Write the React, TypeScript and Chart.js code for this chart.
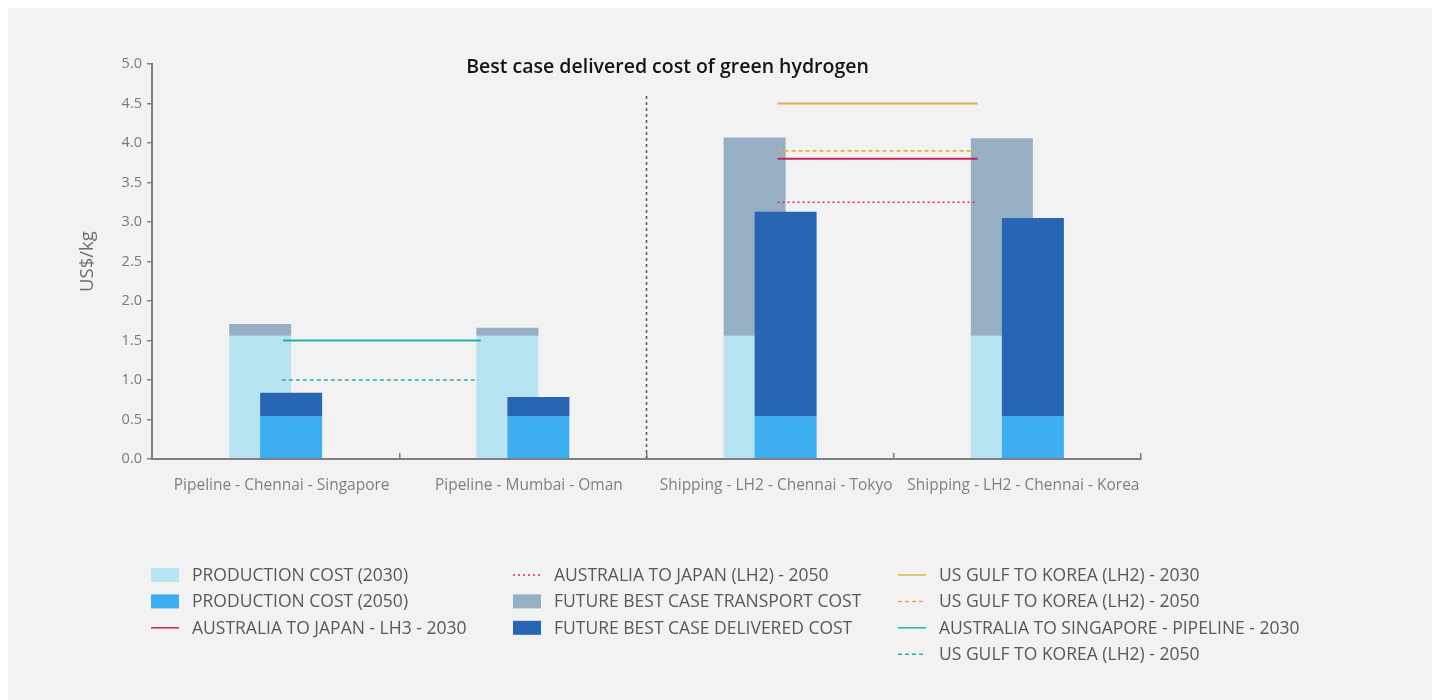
import React, { useEffect, useRef } from "react";
import { Chart, registerables } from "chart.js";

Chart.register(...registerables);

// ---------- DATA ----------
const categories = [
  "Pipeline - Chennai - Singapore",
  "Pipeline - Mumbai - Oman",
  "Shipping - LH2 - Chennai - Tokyo",
  "Shipping - LH2 - Chennai - Korea",
];
const production2030 = [1.56, 1.56, 1.56, 1.56];
const transportCost = [0.15, 0.1, 2.51, 2.5];
const production2050 = [0.54, 0.54, 0.54, 0.54];
const deliveredCost = [0.3, 0.245, 2.59, 2.51];

// benchmark lines: span in category units (start, end) and level in US$/kg
const pipelineSpan = [0.03, 0.83];
const shippingSpan = [2.03, 2.84];
const ausJapanLH3_2030 = 3.8;
const ausJapanLH2_2050 = 3.25;
const usGulfKorea2030 = 4.5;
const usGulfKorea2050 = 3.9;
const ausSingaporePipeline2030 = 1.5;
const usGulfKorea2050Pipeline = 1.0;
// divider between pipeline and shipping groups (category units / value)
const dividerX = 1.5;
const dividerTop = 4.6;

const yMin = 0;
const yMax = 5;
const yStep = 0.5;

const TITLE = "Best case delivered cost of green hydrogen";
const Y_TITLE = "US$/kg";

const FONT = "'Open Sans', 'DejaVu Sans', sans-serif";

const span = (s: number[], v: number) => [
  { x: s[0], y: v },
  { x: s[1], y: v },
];

export default function App() {
  const ref = useRef<HTMLCanvasElement | null>(null);

  useEffect(() => {
    if (!ref.current) return;

    const datasets: any[] = [
      {
        key: "p2030",
        type: "bar",
        label: "PRODUCTION COST (2030)",
        data: production2030,
        backgroundColor: "#b8e3f1",
        stack: "a",
        layer: 0,
      },
      {
        key: "transport",
        type: "bar",
        label: "FUTURE BEST CASE TRANSPORT COST",
        data: transportCost,
        backgroundColor: "#96afc5",
        stack: "a",
        layer: 0,
      },
      {
        key: "p2050",
        type: "bar",
        label: "PRODUCTION COST (2050)",
        data: production2050,
        backgroundColor: "#3daef0",
        stack: "b",
        layer: 1,
      },
      {
        key: "delivered",
        type: "bar",
        label: "FUTURE BEST CASE DELIVERED COST",
        data: deliveredCost,
        backgroundColor: "#2866b4",
        stack: "b",
        layer: 1,
      },
      {
        key: "divider",
        type: "line",
        label: "",
        data: [
          { x: dividerX, y: 0 },
          { x: dividerX, y: dividerTop },
        ],
        borderColor: "#555555",
        borderWidth: 1.5,
        borderDash: [3, 3],
        layer: 2,
      },
      {
        key: "ausJapanLH3",
        type: "line",
        label: "AUSTRALIA TO JAPAN - LH3 - 2030",
        data: span(shippingSpan, ausJapanLH3_2030),
        borderColor: "#c2255c",
        borderWidth: 2,
        layer: 3,
      },
      {
        key: "ausJapanLH2",
        type: "line",
        label: "AUSTRALIA TO JAPAN (LH2) - 2050",
        data: span([shippingSpan[0], shippingSpan[1] - 0.01], ausJapanLH2_2050),
        borderColor: "#e0245e",
        borderWidth: 1.6,
        borderDash: [2, 3],
        layer: 3,
      },
      {
        key: "usGulf2030",
        type: "line",
        label: "US GULF TO KOREA (LH2) - 2030",
        data: span(shippingSpan, usGulfKorea2030),
        borderColor: "#dcb24e",
        borderWidth: 2,
        layer: 3,
      },
      {
        key: "usGulf2050",
        type: "line",
        label: "US GULF TO KOREA (LH2) - 2050",
        data: span([shippingSpan[0], shippingSpan[1] - 0.01], usGulfKorea2050),
        borderColor: "#e9ae3a",
        borderWidth: 1.6,
        borderDash: [4, 3],
        layer: 3,
      },
      {
        key: "ausSingapore",
        type: "line",
        label: "AUSTRALIA TO SINGAPORE - PIPELINE - 2030",
        data: span(pipelineSpan, ausSingaporePipeline2030),
        borderColor: "#1db3a3",
        borderWidth: 2,
        layer: 3,
      },
      {
        key: "usGulf2050Pipe",
        type: "line",
        label: "US GULF TO KOREA (LH2) - 2050",
        data: span([pipelineSpan[0] - 0.005, pipelineSpan[1] - 0.01], usGulfKorea2050Pipeline),
        borderColor: "#20b2b0",
        borderWidth: 1.6,
        borderDash: [4, 3],
        layer: 3,
      },
    ];
    datasets.forEach((d) => {
      if (d.type === "line") {
        d.pointRadius = 0;
        d.pointHoverRadius = 0;
        d.fill = false;
        d.tension = 0;
        d.parsing = false;
        d.stack = "line-" + d.key;
      } else {
        d.borderWidth = 0;
      }
    });

    const legendColumns = [
      ["p2030", "p2050", "ausJapanLH3"],
      ["ausJapanLH2", "transport", "delivered"],
      ["usGulf2030", "usGulf2050", "ausSingapore", "usGulf2050Pipe"],
    ];

    const drawOrderPlugin = {
      id: "drawOrder",
      beforeDatasetsDraw(chart: any) {
        const ctx = chart.ctx;
        const a = chart.chartArea;
        const order = chart.data.datasets
          .map((d: any, i: number) => ({ i, z: d.layer ?? 0 }))
          .sort((p: any, q: any) => p.z - q.z || p.i - q.i);
        ctx.save();
        ctx.beginPath();
        ctx.rect(a.left - 2, a.top - 4, a.right - a.left + 4, a.bottom - a.top + 4);
        ctx.clip();
        for (const { i } of order) {
          if (chart.isDatasetVisible(i)) chart.getDatasetMeta(i).controller.draw();
        }
        ctx.restore();
        return false;
      },
    };

    const titlePlugin = {
      id: "innerTitle",
      afterDraw(chart: any) {
        const ctx = chart.ctx;
        const a = chart.chartArea;
        ctx.save();
        ctx.font = `600 19.5px ${FONT}`;
        ctx.fillStyle = "#141414";
        ctx.textAlign = "center";
        ctx.textBaseline = "middle";
        ctx.fillText(TITLE, (a.left + a.right) / 2 + 21, a.top + 3);
        ctx.restore();
      },
    };

    const legendPlugin = {
      id: "columnLegend",
      afterDraw(chart: any) {
        const ctx = chart.ctx;
        const a = chart.chartArea;
        const colX = [143, 505, 890];
        const rowStart = a.bottom + 116;
        const rowGap = 26.4;
        const swW = 28;
        const swH = 14;
        const textGap = 13;
        ctx.save();
        ctx.font = `400 17.5px ${FONT}`;
        ctx.textBaseline = "middle";
        ctx.textAlign = "left";
        legendColumns.forEach((col, ci) => {
          col.forEach((key, ri) => {
            const ds = chart.data.datasets.find((d: any) => d.key === key);
            if (!ds) return;
            const x = colX[ci];
            const y = rowStart + ri * rowGap;
            if (ds.type === "bar") {
              ctx.fillStyle = ds.backgroundColor;
              ctx.fillRect(x, y - swH / 2, swW, swH);
            } else {
              ctx.strokeStyle = ds.borderColor;
              ctx.lineWidth = 1.5;
              ctx.setLineDash(ds.borderDash || []);
              ctx.beginPath();
              ctx.moveTo(x, y);
              ctx.lineTo(x + swW, y);
              ctx.stroke();
              ctx.setLineDash([]);
            }
            ctx.fillStyle = "#595959";
            ctx.fillText(ds.label, x + swW + textGap, y + 1);
          });
        });
        ctx.restore();
      },
    };

    const chart = new Chart(ref.current, {
      type: "bar",
      data: { labels: categories, datasets },
      options: {
        animation: false,
        responsive: true,
        maintainAspectRatio: false,
        events: [],
        layout: { padding: { top: 56, right: 299, left: 0, bottom: 0 } },
        datasets: {
          bar: { categoryPercentage: 0.2508, barPercentage: 2 },
        },
        plugins: {
          legend: { display: false },
          tooltip: { enabled: false },
          title: { display: false },
        },
        scales: {
          x: {
            type: "category",
            stacked: true,
            offset: true,
            grid: {
              offset: true,
              drawOnChartArea: false,
              drawTicks: true,
              tickLength: -6,
              color: "#7f7f7f",
              lineWidth: 1.5,
            },
            border: { display: true, color: "#7f7f7f", width: 2, z: 1 },
            ticks: {
              color: "#808080",
              font: { family: FONT, size: 15.5 },
              padding: 23,
              labelOffset: 6,
              maxRotation: 0,
              autoSkip: false,
            },
            afterFit(scale: any) {
              scale.height = 241;
            },
          },
          y: {
            stacked: true,
            min: yMin,
            max: yMax,
            grid: {
              drawOnChartArea: false,
              drawTicks: true,
              tickLength: 5,
              color: "#7f7f7f",
              lineWidth: 1.5,
            },
            border: { display: true, color: "#7f7f7f", width: 2, z: 1 },
            ticks: {
              stepSize: yStep,
              color: "#7a7a7a",
              font: { family: FONT, size: 14.5 },
              padding: 5,
              callback: (v: any) => Number(v).toFixed(1),
            },
            title: {
              display: true,
              text: Y_TITLE,
              color: "#6d6d6d",
              font: { family: FONT, size: 18.5 },
              padding: { top: 69, bottom: 0 },
            },
            afterFit(scale: any) {
              scale.width = 144;
            },
          },
        },
      },
      plugins: [drawOrderPlugin, titlePlugin, legendPlugin],
    } as any);

    return () => chart.destroy();
  }, []);

  return (
    <div style={{ position: "relative", width: 1432, height: 692, background: "#f2f2f2" }}>
      <canvas ref={ref} />
    </div>
  );
}
